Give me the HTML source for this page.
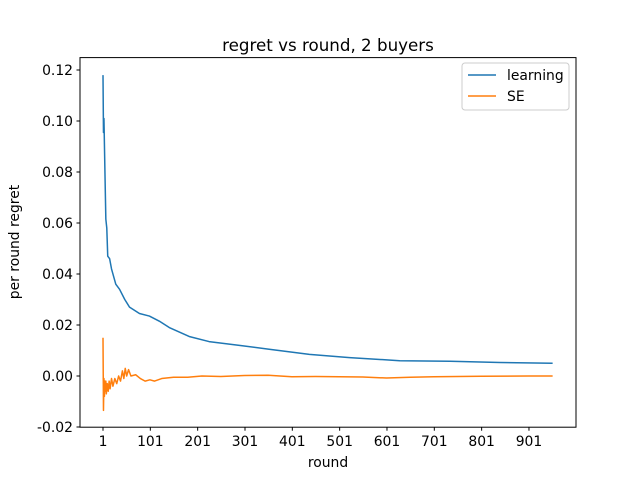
<!DOCTYPE html>
<html><head><meta charset="utf-8"><style>
body{margin:0;background:#fff}
svg{display:block;font-family:"DejaVu Sans","Liberation Sans",sans-serif}
</style></head><body>
<svg id="chart" width="640" height="480">
<rect width="640" height="480" fill="#fff"/>
<text x="328" y="51" font-size="16.7" text-anchor="middle">regret vs round, 2 buyers</text>
<g id="plot"></g>
<rect x="80" y="57.6" width="496" height="369.6" fill="none" stroke="#000" stroke-width="1"/>
<g id="xticks"></g><g id="yticks"></g>
<text x="328" y="467" font-size="13.9" text-anchor="middle">round</text>
<text transform="translate(19,242) rotate(-90)" font-size="13.9" text-anchor="middle">per round regret</text>
<g>
<rect x="462" y="63" width="107" height="47" rx="3" fill="#fff" stroke="#ccc"/>
<line x1="468" y1="75" x2="496" y2="75" stroke="#1f77b4" stroke-width="1.5"/>
<text x="507" y="80" font-size="13.9">learning</text>
<line x1="468" y1="96" x2="496" y2="96" stroke="#ff7f0e" stroke-width="1.5"/>
<text x="507" y="101" font-size="13.9">SE</text>
</g>
</svg>
<script>
const learnRounds=[1,2,3,5,7,9,11,15,19,28,36,47,57,78,99,120,141,183,225,289,352,437,522,628,734,840,951];
const learnValues=[0.118,0.0955,0.101,0.081,0.0615,0.058,0.047,0.046,0.042,0.036,0.034,0.030,0.027,0.0245,0.0235,0.0215,0.019,0.0155,0.0135,0.012,0.0105,0.0085,0.0072,0.006,0.0058,0.0053,0.005];
const seRounds=[1,2,3,4,5,6,7,8,10,12,14,16,19,22,26,30,34,38,42,45,48,51,55,60,70,80,90,100,110,125,150,180,210,250,300,350,400,450,500,550,600,650,700,800,900,951];
const seValues=[0.015,-0.0135,-0.001,-0.008,-0.002,-0.006,-0.002,-0.007,-0.003,-0.006,-0.002,-0.005,-0.001,-0.004,-0.001,-0.003,0.0,-0.002,0.002,-0.001,0.003,0.0,0.0025,0.0,0.0005,-0.001,-0.002,-0.0015,-0.002,-0.001,-0.0005,-0.0005,0.0,-0.0002,0.0002,0.0003,-0.0003,-0.0002,-0.0003,-0.0004,-0.0008,-0.0005,-0.0003,-0.0001,0.0,0.0];
const xTicks=[1,101,201,301,401,501,601,701,801,901];
const yTicks=[-0.02,0.00,0.02,0.04,0.06,0.08,0.10,0.12];
const NS="http://www.w3.org/2000/svg";
function X(r){return 103+(r-1)*0.4733;}
function Y(v){return 376-v*2550;}
function mk(t,a){const e=document.createElementNS(NS,t);for(const k in a)e.setAttribute(k,a[k]);return e;}
const plot=document.getElementById('plot');
function line(rs,vs,c,name){
  const p=mk('path',{d:rs.map((r,i)=>(i?'L':'M')+X(r).toFixed(2)+' '+Y(vs[i]).toFixed(2)).join(''),fill:'none',stroke:c,'stroke-width':1.5,'stroke-linejoin':'round'});
  
  
  plot.appendChild(p);
}
line(learnRounds,learnValues,'#1f77b4','learning-line');
line(seRounds,seValues,'#ff7f0e','se-line');
const xg=document.getElementById('xticks');
xTicks.forEach(t=>{
  const l=mk('line',{x1:X(t),x2:X(t),y1:427.2,y2:430.7,stroke:'#000'});
  
  
  xg.appendChild(l);
  const s=mk('text',{x:X(t),y:446,'font-size':13.9,'text-anchor':'middle'});
  s.textContent=t;
  
  
  xg.appendChild(s);
});
const yg=document.getElementById('yticks');
yTicks.forEach(t=>{
  const l=mk('line',{x1:76.5,x2:80,y1:Y(t),y2:Y(t),stroke:'#000'});
  
  
  yg.appendChild(l);
  const s=mk('text',{x:73,y:Y(t)+5,'font-size':13.9,'text-anchor':'end'});
  s.textContent=t.toFixed(2);
  
  
  yg.appendChild(s);
});
</script>
</body></html>
